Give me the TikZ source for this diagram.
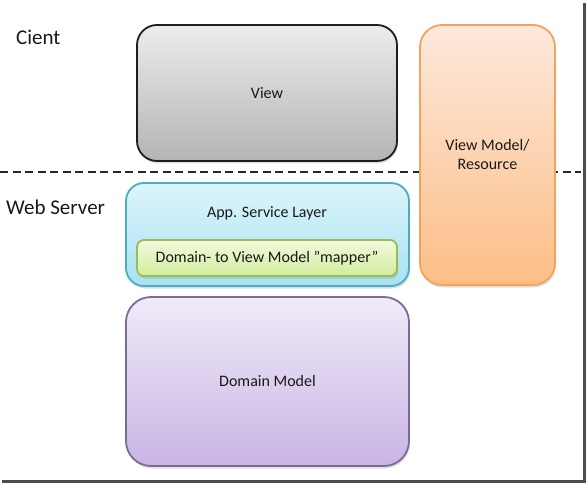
\documentclass[tikz,border=0pt]{standalone}
\usepackage{fontspec}
\setmainfont{Carlito}
\usetikzlibrary{shadows}
\definecolor{viewtop}{HTML}{ECECEC}
\definecolor{viewbot}{HTML}{B4B4B4}
\definecolor{viewline}{HTML}{1E1E1E}
\definecolor{vmtop}{HTML}{FDE9DC}
\definecolor{vmbot}{HTML}{FCBE86}
\definecolor{vmline}{HTML}{F1A45E}
\definecolor{apptop}{HTML}{DDF5FC}
\definecolor{appbot}{HTML}{A8E2F2}
\definecolor{appline}{HTML}{4BACC6}
\definecolor{maptop}{HTML}{F2F9DF}
\definecolor{mapbot}{HTML}{D3EC9C}
\definecolor{mapline}{HTML}{9BBB59}
\definecolor{domtop}{HTML}{F0EBF8}
\definecolor{dombot}{HTML}{C9B5E5}
\definecolor{domline}{HTML}{7D6A9A}
\tikzset{
  box/.style={draw, line width=1.8pt, align=center, font=\fontsize{16}{19}\selectfont,
    inner sep=0pt, text=black!90,
    drop shadow={opacity=0.25, shadow xshift=1pt, shadow yshift=-2.5pt}},
  lbl/.style={font=\fontsize{21}{24}\selectfont, inner sep=0pt, anchor=west, text=black!90},
  sep/.style={line width=1.8pt, dash pattern=on 8pt off 4.5pt, black!85}
}
\begin{document}
\begin{tikzpicture}[x=1pt,y=-1pt]
\useasboundingbox (0,0) rectangle (587,484);
% frame shadow
\fill[black!70] (583,3) rectangle (586,483);
\fill[black!70] (2,480) rectangle (586,483);
% separator
\coordinate (sl) at (0,172);
\coordinate (sr) at (581,172);
\draw[sep] (sl) -- (sr);
% boxes
\node[box, draw=viewline, top color=viewtop, bottom color=viewbot, rounded corners=20pt,
  minimum width=260pt, minimum height=136pt] (view) at (267,93) {View};
\node[box, draw=vmline, top color=vmtop, bottom color=vmbot, rounded corners=22pt,
  minimum width=135pt, minimum height=260pt] (vm) at (487.5,155) {View Model/\\Resource};
\node[box, draw=appline, top color=apptop, bottom color=appbot, rounded corners=18pt,
  minimum width=283pt, minimum height=103pt] (app) at (267.5,234.5) {};
\node[font=\fontsize{16}{19}\selectfont, text=black!90, inner sep=0pt] (applbl) at (267,213) {App. Service Layer};
\node[box, draw=mapline, top color=maptop, bottom color=mapbot, rounded corners=7pt,
  minimum width=260pt, minimum height=36pt] (map) at (267,258) {Domain- to View Model ”mapper”};
\node[box, draw=domline, top color=domtop, bottom color=dombot, rounded corners=25pt,
  minimum width=283pt, minimum height=169pt] (dom) at (267.5,381.5) {Domain Model};
% labels
\node[lbl] (client) at (16,37) {Cient};
\node[lbl] (web) at (6,207) {Web Server};
\end{tikzpicture}
\end{document}
